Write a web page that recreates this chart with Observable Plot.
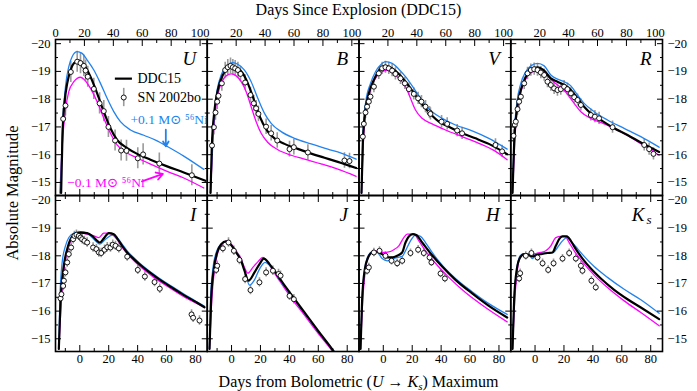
<!DOCTYPE html>
<html><head><meta charset="utf-8">
<script src="https://cdn.jsdelivr.net/npm/d3@7"></script>
<script src="https://cdn.jsdelivr.net/npm/@observablehq/plot@0.6"></script>
<style>
body{margin:0;background:#fff;}
#fig{position:relative;width:697px;height:391px;font-family:"Liberation Serif","DejaVu Serif",serif;color:#000;overflow:hidden}
#fig svg, #fig svg text{font-family:"Liberation Serif","DejaVu Serif",serif !important;}
.ttl{position:absolute;left:55px;width:607px;text-align:center;font-size:16px;line-height:18px;white-space:nowrap}
.ttl sub{font-size:11px;line-height:0;vertical-align:-3px}
#ylab{position:absolute;left:13px;top:193px;transform:translate(-50%,-50%) rotate(-90deg);font-size:16.5px;white-space:nowrap}
</style></head><body>
<div id="fig">
<div class="ttl" style="top:1px">Days Since Explosion (DDC15)</div>
<div class="ttl" style="top:373px">Days from Bolometric (<i>U</i> → <i>K</i><sub><i>s</i></sub>) Maximum</div>
<div id="ylab">Absolute Magnitude</div>
</div>
<script>
// ---------------- data: [days from bolometric max, absolute magnitude] ----------------
const bands = ["U","B","V","R","I","J","H","Ks"];
const bandErr = [0.38,0.28,0.22,0.22,0.17,0.17,0.15,0.15];

const U_ddc15 = [[-12.9,-14.62],[-12.0,-16.65],[-10.6,-17.85],[-8.7,-18.57],[-6.4,-19.05],[-4.1,-19.29],[-0.5,-19.39],[2.8,-19.23],[7.4,-18.81],[12.0,-18.21],[16.6,-17.55],[21.2,-16.95],[25.8,-16.53],[32.8,-16.24],[39.7,-16.03],[48.9,-15.82],[60.4,-15.58],[71.9,-15.36],[86.9,-15.06]];
const U_plus = [[-13.3,-14.62],[-12.2,-16.65],[-9.9,-18.45],[-7.6,-19.17],[-5.3,-19.53],[-1.8,-19.71],[1.6,-19.65],[5.1,-19.41],[9.7,-19.05],[14.3,-18.57],[18.9,-18.03],[23.5,-17.55],[28.1,-17.19],[35.1,-16.89],[44.3,-16.7],[53.5,-16.5],[60.4,-16.3],[71.9,-15.95],[85.8,-15.47]];
const U_minus = [[-13.8,-14.62],[-12.2,-16.29],[-9.9,-17.61],[-7.6,-18.27],[-4.1,-18.63],[0.5,-18.79],[2.8,-18.72],[7.4,-18.39],[12.0,-17.91],[16.6,-17.31],[21.2,-16.77],[25.8,-16.35],[32.8,-16.06],[39.7,-15.88],[48.9,-15.66],[60.4,-15.40],[71.9,-15.16],[85.8,-14.80]];
const U_obs = [[-11.5,-17.29],[-9.9,-17.77],[-6.2,-18.98],[-1.8,-19.35],[0.5,-19.3],[2.8,-19.2],[4.0,-19.03],[5.5,-18.81],[9.7,-18.37],[13.7,-17.85],[16.6,-17.57],[19.8,-17.0],[24.4,-16.51],[28.6,-16.15],[32.3,-16.14],[40.1,-15.87],[43.8,-16.01],[55.0,-15.68],[77.5,-15.26]];

const B_ddc15 = [[-14.55,-14.62],[-13.63,-16.29],[-11.78,-17.61],[-9.48,-18.33],[-6.02,-18.87],[-2.56,-19.11],[0.89,-19.17],[4.35,-19.11],[7.81,-18.93],[11.27,-18.57],[14.73,-18.09],[18.18,-17.55],[21.64,-17.13],[25.1,-16.83],[29.71,-16.59],[36.63,-16.39],[45.85,-16.21],[55.07,-16.04],[64.29,-15.89],[73.51,-15.74],[86.19,-15.52]];
const B_plus = [[-14.55,-14.62],[-12.94,-16.65],[-10.63,-18.09],[-7.17,-18.87],[-3.72,-19.17],[0.89,-19.32],[4.35,-19.26],[8.96,-19.05],[13.57,-18.63],[18.18,-18.03],[22.79,-17.49],[27.4,-17.13],[34.32,-16.83],[43.54,-16.59],[55.07,-16.39],[66.6,-16.2],[75.8,-16.06],[86.19,-15.84]];
const B_minus = [[-14.55,-14.62],[-12.94,-16.41],[-10.63,-17.85],[-7.17,-18.57],[-3.72,-18.84],[-0.26,-18.91],[3.2,-18.84],[6.66,-18.63],[10.12,-18.27],[13.57,-17.73],[17.03,-17.19],[20.49,-16.77],[25.1,-16.44],[32.02,-16.18],[41.24,-15.98],[50.46,-15.84],[61.98,-15.67],[73.51,-15.48],[86.19,-15.22]];
const B_obs = [[-13.5,-16.33],[-12.2,-16.99],[-11.1,-17.52],[-9.9,-17.91],[-9.0,-18.12],[-6.7,-18.57],[-4.4,-19.05],[-2.6,-19.15],[-0.7,-19.2],[0.9,-19.15],[2.5,-19.11],[4.4,-19.05],[6.2,-18.91],[9.4,-18.6],[13.1,-18.15],[15.4,-17.85],[17.0,-17.67],[18.6,-17.47],[23.9,-17.01],[27.4,-16.77],[31.6,-16.51],[40.1,-16.2],[43.1,-16.27],[52.8,-16.08],[78.1,-15.79],[81.6,-15.77]];

const V_ddc15 = [[-15.07,-14.62],[-14.15,-16.41],[-12.3,-17.61],[-10.0,-18.21],[-6.54,-18.69],[-3.08,-19.03],[1.53,-19.2],[6.14,-19.11],[10.75,-18.91],[15.36,-18.63],[19.97,-18.31],[24.58,-17.97],[29.19,-17.67],[33.8,-17.4],[38.41,-17.19],[45.33,-17.01],[54.55,-16.77],[63.77,-16.59],[72.99,-16.39],[85.67,-16.02]];
const V_plus = [[-15.07,-14.62],[-14.15,-16.65],[-12.3,-17.85],[-8.85,-18.57],[-5.39,-18.99],[-1.93,-19.23],[1.53,-19.35],[6.14,-19.29],[10.75,-19.08],[15.36,-18.81],[19.97,-18.48],[24.58,-18.12],[29.19,-17.79],[33.8,-17.55],[40.72,-17.31],[49.94,-17.07],[61.46,-16.86],[72.99,-16.59],[85.67,-16.2]];
const V_minus = [[-15.07,-14.62],[-13.46,-16.77],[-11.15,-17.85],[-7.69,-18.51],[-4.24,-18.84],[-0.78,-18.99],[2.68,-19.05],[6.14,-18.96],[10.75,-18.75],[15.36,-18.45],[18.82,-18.03],[22.27,-17.61],[26.88,-17.31],[33.8,-17.11],[43.02,-16.89],[54.55,-16.65],[66.07,-16.41],[77.6,-16.12],[85.67,-15.82]];
const V_obs = [[-14.15,-16.65],[-13.46,-17.11],[-12.3,-17.52],[-11.2,-17.73],[-10.0,-17.91],[-8.85,-18.09],[-6.5,-18.45],[-3.1,-18.93],[-0.8,-19.11],[1.5,-19.15],[3.8,-19.11],[6.1,-19.03],[8.4,-18.91],[11.9,-18.75],[14.9,-18.57],[17.7,-18.36],[21.1,-18.19],[24.1,-18.03],[26.4,-17.91],[29.2,-17.73],[32.0,-17.52],[32.6,-17.47],[40.3,-17.19],[44.2,-17.11],[51.1,-16.87],[54.5,-16.77],[77.6,-16.35],[82.2,-16.12]];

const R_ddc15 = [[-15.59,-14.62],[-14.44,-16.41],[-12.6,-17.61],[-9.83,-18.33],[-6.37,-18.81],[-2.91,-19.05],[1.7,-19.15],[6.31,-19.03],[10.92,-18.75],[15.53,-18.63],[20.14,-18.51],[24.75,-18.33],[29.36,-18.03],[33.97,-17.73],[38.58,-17.49],[45.5,-17.25],[54.72,-16.95],[63.94,-16.71],[73.16,-16.44],[85.84,-16.1]];
const R_plus = [[-15.59,-14.62],[-14.44,-16.65],[-12.6,-17.85],[-9.83,-18.57],[-6.37,-18.99],[-2.91,-19.2],[1.7,-19.29],[6.31,-19.2],[10.92,-18.87],[15.53,-18.72],[20.14,-18.63],[24.75,-18.48],[29.36,-18.15],[33.97,-17.85],[40.88,-17.55],[50.11,-17.25],[61.63,-16.95],[73.16,-16.65],[85.84,-16.27]];
const R_minus = [[-15.59,-14.62],[-13.98,-16.53],[-12.13,-17.73],[-8.68,-18.45],[-5.22,-18.84],[-1.76,-18.99],[1.7,-19.05],[6.31,-18.96],[10.92,-18.72],[15.53,-18.51],[20.14,-18.33],[23.6,-18.09],[27.06,-17.85],[31.66,-17.55],[38.58,-17.31],[47.8,-17.11],[59.33,-16.83],[73.16,-16.4],[85.84,-15.98]];
const R_obs = [[-14.9,-16.68],[-14.0,-17.07],[-13.3,-17.19],[-12.1,-17.64],[-11.0,-17.91],[-9.8,-18.09],[-7.5,-18.57],[-5.2,-18.93],[-2.9,-19.05],[-0.6,-19.08],[1.7,-19.05],[4.0,-18.96],[6.3,-18.87],[8.6,-18.63],[10.9,-18.51],[13.2,-18.39],[15.5,-18.33],[17.8,-18.36],[20.1,-18.45],[22.4,-18.36],[24.8,-18.21],[27.1,-18.07],[29.4,-17.97],[31.7,-17.79],[38.6,-17.43],[41.4,-17.37],[44.3,-17.31],[53.6,-16.99],[75.5,-16.35],[78.9,-16.2],[81.9,-16.03]];

const I_ddc15 = [[-14.5,-14.63],[-13.34,-16.31],[-11.04,-17.64],[-8.73,-18.24],[-6.43,-18.6],[-2.97,-18.78],[0.49,-18.84],[5.1,-18.82],[8.56,-18.72],[12.01,-18.54],[13.86,-18.48],[16.62,-18.63],[20.08,-18.82],[23.54,-18.78],[25.84,-18.63],[29.3,-18.36],[32.76,-18.12],[37.37,-17.88],[44.29,-17.56],[53.51,-17.2],[62.73,-16.88],[71.95,-16.58],[81.17,-16.3],[86.24,-16.14]];
const I_plus = [[-14.5,-14.63],[-13.81,-16.43],[-12.19,-17.76],[-9.89,-18.36],[-7.58,-18.66],[-4.12,-18.82],[0.49,-18.87],[5.1,-18.82],[8.56,-18.66],[12.01,-18.48],[13.86,-18.42],[17.78,-18.6],[22.39,-18.75],[25.84,-18.66],[29.3,-18.42],[32.76,-18.18],[37.37,-17.93],[44.29,-17.6],[53.51,-17.24],[62.73,-16.92],[71.95,-16.62],[81.17,-16.33],[86.24,-16.17]];
const I_minus = [[-14.5,-14.63],[-12.88,-16.31],[-10.58,-17.64],[-7.58,-18.36],[-4.12,-18.72],[0.49,-18.84],[5.1,-18.78],[9.71,-18.72],[13.17,-18.66],[16.62,-18.82],[20.08,-18.82],[23.54,-18.72],[26.99,-18.5],[30.45,-18.22],[35.06,-17.95],[41.98,-17.6],[51.2,-17.22],[60.42,-16.9],[71.95,-16.52],[81.17,-16.27],[86.24,-16.13]];
const I_obs = [[-13.3,-16.46],[-12.7,-16.61],[-11.5,-16.91],[-11.0,-17.1],[-9.9,-17.4],[-8.7,-17.76],[-7.6,-18.06],[-6.0,-18.3],[-4.6,-18.6],[-3.7,-18.72],[-2.3,-18.76],[-0.7,-18.72],[0.5,-18.66],[1.6,-18.6],[3.2,-18.54],[5.1,-18.48],[9.2,-18.3],[11.5,-18.24],[13.2,-18.12],[14.8,-18.1],[17.1,-18.22],[19.0,-18.31],[21.2,-18.3],[22.8,-18.4],[24.7,-18.36],[27.0,-18.27],[32.8,-17.97],[40.1,-17.49],[45.0,-17.25],[51.7,-17.05],[55.3,-16.81],[77.3,-15.88],[78.4,-15.76],[82.8,-15.66]];

const J_ddc15 = [[-15.24,-14.63],[-14.09,-16.43],[-12.25,-17.52],[-9.94,-18.12],[-7.17,-18.42],[-3.72,-18.52],[-0.26,-18.39],[3.2,-18.12],[6.66,-17.82],[8.96,-17.46],[11.73,-17.1],[15.88,-17.4],[19.34,-17.7],[22.33,-17.9],[26.25,-17.7],[29.71,-17.46],[34.32,-17.1],[41.24,-16.6],[50.46,-15.95],[59.68,-15.3],[71.2,-14.5],[75.0,-14.2]];
const J_plus = [[-15.24,-14.63],[-14.55,-16.43],[-12.94,-17.52],[-10.63,-18.12],[-7.17,-18.42],[-3.72,-18.52],[-0.26,-18.39],[3.2,-18.12],[6.66,-17.82],[9.42,-17.4],[12.42,-16.94],[15.88,-17.13],[19.34,-17.52],[23.25,-17.76],[26.25,-17.66],[29.71,-17.42],[34.32,-17.06],[41.24,-16.57],[50.46,-15.93],[59.68,-15.28],[71.6,-14.5],[75.0,-14.25]];
const J_minus = [[-15.24,-14.63],[-13.63,-16.43],[-11.78,-17.52],[-9.48,-18.12],[-6.71,-18.42],[-3.72,-18.54],[-0.26,-18.42],[3.2,-18.18],[6.66,-17.88],[8.96,-17.58],[11.27,-17.37],[14.73,-17.58],[18.18,-17.78],[21.64,-17.94],[25.1,-17.76],[28.56,-17.46],[33.17,-17.1],[41.0,-16.5],[50.0,-15.88],[59.5,-15.22],[70.5,-14.5],[74.0,-14.25]];
const J_obs = [[-10.6,-17.49],[-9.9,-17.64],[-6.0,-18.27],[-2.1,-18.48],[1.6,-18.18],[5.5,-17.85],[9.4,-17.16],[13.1,-16.76],[19.3,-17.04],[23.9,-17.4],[28.6,-17.46],[32.5,-17.34],[33.9,-17.28],[40.1,-16.55],[43.1,-16.43]];

const H_ddc15 = [[-15.76,-14.63],[-14.61,-16.43],[-12.77,-17.52],[-10.46,-17.94],[-7.69,-18.12],[-4.24,-18.14],[-0.78,-18.06],[2.68,-17.94],[6.14,-17.94],[9.6,-18.0],[13.05,-18.12],[15.36,-18.48],[17.66,-18.7],[20.43,-18.78],[22.74,-18.75],[26.88,-18.48],[33.8,-18.02],[40.72,-17.61],[49.94,-17.13],[61.46,-16.64],[72.99,-16.19],[85.67,-15.77]];
const H_plus = [[-15.76,-14.63],[-14.61,-16.43],[-12.77,-17.52],[-10.46,-18.0],[-7.69,-18.14],[-4.24,-18.12],[-0.78,-17.9],[2.68,-17.82],[6.14,-17.88],[9.6,-17.94],[13.05,-17.98],[15.36,-18.18],[18.82,-18.54],[22.27,-18.75],[25.73,-18.7],[29.19,-18.48],[33.8,-18.12],[40.72,-17.66],[49.94,-17.18],[61.46,-16.7],[72.99,-16.27],[85.67,-15.88]];
const H_minus = [[-15.76,-14.63],[-14.15,-16.43],[-12.3,-17.52],[-10.0,-18.0],[-6.54,-18.18],[-3.08,-18.14],[0.37,-18.12],[3.83,-18.14],[7.29,-18.22],[10.75,-18.36],[14.2,-18.66],[16.51,-18.78],[21.12,-18.78],[24.58,-18.54],[29.19,-18.18],[36.11,-17.73],[45.33,-17.22],[56.85,-16.67],[70.68,-16.13],[85.67,-15.61]];
const H_obs = [[-11.2,-17.46],[-10.0,-17.58],[-6.5,-18.12],[-2.6,-18.18],[1.5,-18.0],[5.7,-17.82],[9.6,-17.73],[13.1,-17.82],[18.8,-18.1],[24.1,-18.22],[28.0,-18.1],[32.0,-17.94],[33.3,-17.76],[39.6,-17.36],[42.6,-17.18]];

const Ks_ddc15 = [[-15.59,-14.63],[-14.44,-16.43],[-12.6,-17.52],[-10.29,-17.94],[-7.52,-18.06],[-4.07,-18.02],[-1.76,-17.98],[0.54,-18.02],[4.0,-18.06],[8.61,-18.1],[12.07,-18.12],[14.38,-18.36],[16.68,-18.6],[18.99,-18.7],[21.98,-18.7],[24.75,-18.54],[28.21,-18.24],[32.82,-17.9],[38.58,-17.54],[45.5,-17.18],[54.72,-16.77],[63.94,-16.43],[73.16,-16.13],[85.84,-15.71]];
const Ks_plus = [[-15.59,-14.63],[-14.44,-16.43],[-12.6,-17.52],[-10.29,-18.0],[-7.52,-18.08],[-4.07,-18.02],[-1.76,-17.9],[0.54,-18.06],[4.0,-18.08],[8.61,-18.1],[12.76,-18.12],[15.53,-18.3],[18.99,-18.54],[21.98,-18.66],[25.21,-18.5],[29.36,-18.26],[33.97,-17.98],[40.88,-17.61],[50.11,-17.22],[61.63,-16.79],[73.16,-16.41],[85.84,-15.92]];
const Ks_minus = [[-15.59,-14.63],[-13.98,-16.43],[-12.13,-17.52],[-9.83,-18.0],[-6.37,-18.08],[-2.91,-18.06],[0.54,-18.08],[4.0,-18.12],[7.46,-18.18],[10.92,-18.36],[14.38,-18.66],[17.83,-18.7],[20.6,-18.7],[23.6,-18.48],[27.06,-18.18],[32.82,-17.78],[40.88,-17.3],[50.11,-16.85],[61.63,-16.37],[73.16,-15.95],[85.84,-15.47]];
const Ks_obs = [[-11.0,-17.18],[-10.3,-17.37],[-6.4,-18.0],[-2.5,-18.1],[1.7,-17.94],[5.2,-17.73],[9.1,-17.49],[12.8,-17.73],[19.0,-17.9],[23.6,-18.1],[28.2,-17.9],[31.7,-17.64],[32.8,-17.46],[39.0,-17.1],[42.0,-16.86]];

// tick values
const bolMajor = [0,20,40,60,80];
const bolMinor = [-10,10,30,50,70];
const expMajor = [0,20,40,60,80,100];
const expMinor = [10,30,50,70,90];
const expOffset = 16.8;          // bolometric maximum, days since explosion
const magMajor = [-20,-19,-18,-17,-16,-15];
const magMinor = [-19.5,-18.5,-17.5,-16.5,-15.5];

// legend & annotation (U panel), in data units
const legendLabels = ["DDC15","SN 2002bo"];
const legendMag = [-18.74,-18.06];
const legendLineT = [24.6,36.4];
const legendMarkerT = 30.4;
const legendTextT = 39.9;
const niLabels = ["+0.1 M\u2299 \u2075\u2076Ni","\u22120.1 M\u2299 \u2075\u2076Ni"];
const niLabelT = [35.0,-8.7];
const niLabelMag = [-17.27,-15.0];
const niArrowT1 = [59.5,43.0], niArrowM1 = [-16.9,-15.04];
const niArrowT2 = [59.5,57.5], niArrowM2 = [-16.3,-15.31];

// ---------------- build ----------------
const bandSeries = [
  [U_ddc15,U_plus,U_minus,U_obs],[B_ddc15,B_plus,B_minus,B_obs],
  [V_ddc15,V_plus,V_minus,V_obs],[R_ddc15,R_plus,R_minus,R_obs],
  [I_ddc15,I_plus,I_minus,I_obs],[J_ddc15,J_plus,J_minus,J_obs],
  [H_ddc15,H_plus,H_minus,H_obs],[Ks_ddc15,Ks_plus,Ks_minus,Ks_obs]
];
const W = 697, H = 391;
const PX0 = 55, PW = 151.75, PH = 156;
const ROW_TOP = [39,195];
const X_DOMAIN = [-16.8, 88.15];
const Y_DOMAINS = [[-14.53,-20.15],[-14.54,-20.18]];
const BLUE = "#2283ee", MAGENTA = "#ff00ff", GRAY = "#9a9a9a";
const FONT = "Liberation Serif";
const fmtMag = d => "\u2212" + Math.abs(d);
const X = d => d[0], Y = d => d[1];

function tickAxes(col, row) {
  const o = {tickFormat: () => "", label: null, strokeWidth: 1};
  const exp = v => v.map(d => d - expOffset);
  const m = [
    Plot.axisX(bolMajor, {...o, anchor: "bottom", tickSize: 6, dy: -6}),
    Plot.axisX(bolMinor, {...o, anchor: "bottom", tickSize: 3, dy: -3}),
    Plot.axisX(row === 0 ? exp(expMajor) : bolMajor, {...o, anchor: "top", tickSize: 6, dy: 6}),
    Plot.axisX(row === 0 ? exp(expMinor) : bolMinor, {...o, anchor: "top", tickSize: 3, dy: 3}),
    Plot.axisY(magMajor, {...o, anchor: "left", tickSize: 6, dx: 6}),
    Plot.axisY(magMinor, {...o, anchor: "left", tickSize: 3, dx: 3}),
    Plot.axisY(magMajor, {...o, anchor: "right", tickSize: 6, dx: -6}),
    Plot.axisY(magMinor, {...o, anchor: "right", tickSize: 3, dx: -3})
  ];
  const lab = {tickSize: 0, label: null, fontSize: 12.5};
  if (row === 0) {
    const vals = col === 0 ? expMajor : expMajor.slice(1);
    m.push(Plot.axisX(exp(vals), {...lab, anchor: "top", tickPadding: 3, tickFormat: d => Math.round(d + expOffset)}));
  } else {
    m.push(Plot.axisX(bolMajor, {...lab, anchor: "bottom", tickPadding: 3, tickFormat: d => d}));
  }
  if (col === 0) m.push(Plot.axisY(magMajor, {...lab, anchor: "left", tickPadding: 5, tickFormat: fmtMag}));
  if (col === 3) m.push(Plot.axisY(magMajor, {...lab, anchor: "right", tickPadding: 5, tickFormat: fmtMag}));
  return m;
}

function makePanel(i) {
  const col = i % 4, row = Math.floor(i / 4);
  const left = PX0 + col * PW, top = ROW_TOP[row];
  const [ddc, plus, minus, obs] = bandSeries[i];
  const err = bandErr[i];
  const marks = [
    Plot.ruleX(obs, {x: X, y1: d => d[1] - err, y2: d => d[1] + err, stroke: GRAY, strokeWidth: 1.6, clip: true}),
    Plot.line(minus, {x: X, y: Y, stroke: MAGENTA, strokeWidth: 1.3, curve: "monotone-x", clip: true}),
    Plot.line(plus, {x: X, y: Y, stroke: BLUE, strokeWidth: 1.3, curve: "monotone-x", clip: true}),
    Plot.line(ddc, {x: X, y: Y, stroke: "black", strokeWidth: 2.2, curve: "monotone-x", clip: true}),
    Plot.dot(obs, {x: X, y: Y, r: 2.5, stroke: "black", strokeWidth: 0.9, fill: "white", clip: true}),
    Plot.frame({stroke: "black", strokeWidth: 1.6}),
    ...tickAxes(col, row)
  ];
  const lbl = {frameAnchor: "top-right", textAnchor: "end", lineAnchor: "middle", fontSize: 19, fontStyle: "italic"};
  if (bands[i] === "Ks") {
    marks.push(Plot.text(["K"], {...lbl, dx: -18, dy: 19}));
    marks.push(Plot.text(["s"], {...lbl, fontSize: 13, dx: -11, dy: 24}));
  } else {
    marks.push(Plot.text([bands[i]], {...lbl, dx: -11, dy: 19}));
  }
  if (i === 0) {
    const tf = {fontSize: 14, textAnchor: "start", lineAnchor: "middle"};
    marks.push(
      Plot.ruleY([legendMag[0]], {x1: legendLineT[0], x2: legendLineT[1], stroke: "black", strokeWidth: 2.2}),
      Plot.text([legendLabels[0]], {...tf, x: legendTextT, y: legendMag[0]}),
      Plot.ruleX([legendMarkerT], {y1: legendMag[1] - 0.33, y2: legendMag[1] + 0.33, stroke: GRAY, strokeWidth: 1.6}),
      Plot.dot([legendMarkerT], {x: d => d, y: legendMag[1], r: 2.5, stroke: "black", strokeWidth: 0.9, fill: "white"}),
      Plot.text([legendLabels[1]], {...tf, x: legendTextT, y: legendMag[1]}),
      Plot.text([niLabels[0]], {...tf, fontSize: 13.5, x: niLabelT[0], y: niLabelMag[0], fill: BLUE}),
      Plot.text([niLabels[1]], {...tf, fontSize: 13.5, x: niLabelT[1], y: niLabelMag[1], fill: MAGENTA}),
      Plot.arrow([0], {x1: niArrowT1[0], y1: niArrowM1[0], x2: niArrowT2[0], y2: niArrowM2[0], stroke: BLUE, strokeWidth: 1.8, headLength: 7}),
      Plot.arrow([0], {x1: niArrowT1[1], y1: niArrowM1[1], x2: niArrowT2[1], y2: niArrowM2[1], stroke: MAGENTA, strokeWidth: 1.8, headLength: 7})
    );
  }
  return Plot.plot({
    width: W, height: H,
    marginLeft: left, marginRight: W - left - PW,
    marginTop: top, marginBottom: H - top - PH,
    x: {domain: X_DOMAIN, label: null, axis: null},
    y: {domain: Y_DOMAINS[row], label: null, axis: null},
    style: {position: "absolute", left: "0px", top: "0px", background: "transparent", overflow: "visible"},
    marks
  });
}

const fig = document.getElementById("fig");
for (let i = 0; i < bands.length; i++) fig.appendChild(makePanel(i));
</script>
</body></html>
